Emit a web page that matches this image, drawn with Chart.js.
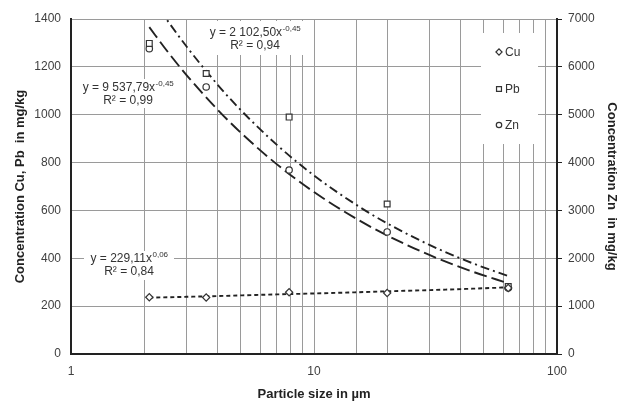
<!DOCTYPE html>
<html>
<head>
<meta charset="utf-8">
<script src="https://cdn.jsdelivr.net/npm/chart.js@4.4.0/dist/chart.umd.min.js"></script>
<style>
  html, body { margin: 0; padding: 0; background: #fff; }
  #wrap { width: 619px; height: 403px; }
</style>
</head>
<body>
<div id="wrap"><canvas id="chart" width="619" height="403"></canvas></div>
<script>
const particleSize = [2.1, 3.6, 7.9, 20, 63];
const cuConc = [237, 236, 258, 255, 276];
const pbConc = [1298, 1172, 990, 627, 282];
const znConc = [6380, 5580, 3845, 2550, 1380];

// power trend lines
const trendX = [2.1, 2.5, 3, 4, 5, 7, 10, 15, 20, 30, 45, 63];
const cuTrend = [236, 237, 239, 242, 245, 249, 253, 258, 262, 267, 273, 279];
const pbTrend = [1506, 1392, 1283, 1127, 1019, 876, 746, 622, 546, 455, 379, 326];
const znTrend = [6829, 6315, 5818, 5112, 4623, 3973, 3384, 2820, 2478, 2064, 1720, 1478];

const seriesNames = ['Cu', 'Pb', 'Zn'];
const xTickLabels = [1, 10, 100];
const yTicks = { min: 0, max: 1400, step: 200 };
const y2Ticks = { min: 0, max: 7000, step: 1000 };

// trend equations: [main text, exponent, R²]
const eqPb = ['y = 2 102,50x', '-0,45', 'R² = 0,94'];
const eqZn = ['y = 9 537,79x', '-0,45', 'R² = 0,99'];
const eqCu = ['y = 229,11x', '0,06', 'R² = 0,84'];

const toPts = (xs, ys) => xs.map((x, i) => ({ x: x, y: ys[i] }));

const INK = '#333';
const FONT = "'Liberation Sans', Arial, sans-serif";

Chart.defaults.font.family = FONT;
Chart.defaults.font.size = 12;
Chart.defaults.color = '#404040';

const markerBase = {
  showLine: false,
  backgroundColor: '#fff',
  borderColor: INK,
  borderWidth: 1.2,
  pointRadius: 3.3,
  pointHoverRadius: 3.3
};
const trendBase = {
  showLine: true,
  pointRadius: 0,
  borderColor: '#222',
  borderWidth: 1.9,
  fill: false,
  cubicInterpolationMode: 'monotone'
};

// draw one equation label with a white box
function drawEquation(ctx, cx, cy, eq, box) {
  ctx.save();
  ctx.fillStyle = '#fff';
  ctx.fillRect(box[0], box[1], box[2], box[3]);
  ctx.fillStyle = INK;
  ctx.textBaseline = 'middle';
  ctx.font = '12px ' + FONT;
  const w1 = ctx.measureText(eq[0]).width;
  ctx.font = '8px ' + FONT;
  const w2 = ctx.measureText(eq[1]).width;
  const start = cx - (w1 + w2) / 2;
  ctx.font = '12px ' + FONT;
  ctx.textAlign = 'left';
  ctx.fillText(eq[0], start, cy);
  ctx.font = '8px ' + FONT;
  ctx.fillText(eq[1], start + w1 + 0.5, cy - 4);
  ctx.font = '12px ' + FONT;
  ctx.textAlign = 'center';
  ctx.fillText(eq[2], cx, cy + 13);
  ctx.restore();
}

const labelsPlugin = {
  id: 'labelsPlugin',
  beforeDatasetsDraw(chart) {
    const ctx = chart.ctx;
    drawEquation(ctx, 255, 33, eqPb, [202, 21, 104, 34]);
    drawEquation(ctx, 128, 88, eqZn, [77, 79, 102, 29]);
    drawEquation(ctx, 129, 259, eqCu, [84, 251, 90, 29]);

    // legend inside the plot
    ctx.save();
    ctx.fillStyle = '#fff';
    ctx.fillRect(481, 33, 57, 111);
    const rows = [52, 89, 125];
    chart.data.datasets.slice(0, 3).forEach((ds, i) => {
      ctx.fillStyle = '#fff';
      ctx.strokeStyle = INK;
      ctx.lineWidth = 1.2;
      Chart.helpers.drawPoint(ctx, {
        pointStyle: ds.pointStyle,
        radius: ds.pointRadius * 0.85,
        borderWidth: 1.2
      }, 499, rows[i]);
      ctx.fillStyle = INK;
      ctx.font = '12px ' + FONT;
      ctx.textAlign = 'left';
      ctx.textBaseline = 'middle';
      ctx.fillText(ds.label, 505, rows[i] + 1);
    });
    ctx.restore();
  }
};

new Chart(document.getElementById('chart'), {
  type: 'scatter',
  data: {
    datasets: [
      { ...markerBase, label: seriesNames[0], data: toPts(particleSize, cuConc), pointStyle: 'rectRot', pointRadius: 3.6, yAxisID: 'y' },
      { ...markerBase, label: seriesNames[1], data: toPts(particleSize, pbConc), pointStyle: 'rect', pointRadius: 4.1, yAxisID: 'y' },
      { ...markerBase, label: seriesNames[2], data: toPts(particleSize, znConc), pointStyle: 'circle', pointRadius: 3.2, yAxisID: 'y2' },
      { ...trendBase, label: 'Cu trend', data: toPts(trendX, cuTrend), borderDash: [4, 3], yAxisID: 'y' },
      { ...trendBase, label: 'Pb trend', data: toPts(trendX, pbTrend), borderDash: [9, 4, 2, 4], yAxisID: 'y' },
      { ...trendBase, label: 'Zn trend', data: toPts(trendX, znTrend), borderDash: [13, 5], yAxisID: 'y2' }
    ]
  },
  options: {
    responsive: false,
    animation: false,
    layout: { padding: { top: 19, right: 0, bottom: 0, left: 0 } },
    plugins: {
      legend: { display: false },
      tooltip: { enabled: false }
    },
    scales: {
      x: {
        type: 'logarithmic',
        min: xTickLabels[0],
        max: xTickLabels[xTickLabels.length - 1],
        afterFit: s => { s.height = 49; },
        grid: { color: '#9a9a9a', lineWidth: 1, drawTicks: false },
        border: { color: '#222', width: 2 },
        ticks: {
          padding: 10,
          maxRotation: 0,
          autoSkip: false,
          callback: v => xTickLabels.includes(Math.round(v * 1000) / 1000) ? String(v) : ''
        },
        title: {
          display: true,
          text: 'Particle size in µm',
          font: { size: 13, weight: 'bold' },
          color: '#222',
          padding: { top: 0, bottom: 1 }
        }
      },
      y: {
        position: 'left',
        min: yTicks.min,
        max: yTicks.max,
        afterFit: s => { s.width = 71; },
        grid: { color: '#9a9a9a', lineWidth: 1, drawTicks: false },
        border: { color: '#222', width: 2 },
        ticks: { stepSize: yTicks.step, padding: 10, callback: v => String(v) },
        title: {
          display: true,
          text: 'Concentration Cu, Pb  in mg/kg',
          font: { size: 13, weight: 'bold' },
          color: '#222',
          padding: { top: 13, bottom: 0 }
        }
      },
      y2: {
        position: 'right',
        min: y2Ticks.min,
        max: y2Ticks.max,
        afterFit: s => { s.width = 62; },
        grid: { drawOnChartArea: false, drawTicks: true, tickLength: 5, color: '#222' },
        border: { color: '#222', width: 2 },
        ticks: { stepSize: y2Ticks.step, padding: 6, callback: v => String(v) },
        title: {
          display: true,
          text: 'Concentration Zn  in mg/kg',
          font: { size: 13, weight: 'bold' },
          color: '#222',
          padding: { top: 0, bottom: 0 }
        }
      }
    }
  },
  plugins: [labelsPlugin]
});
</script>
</body>
</html>
